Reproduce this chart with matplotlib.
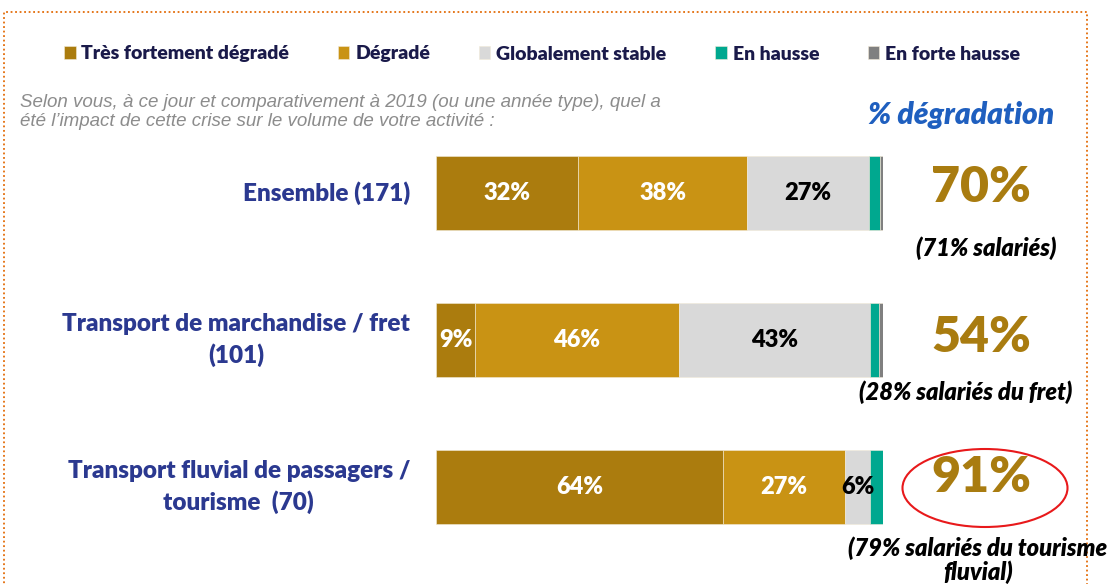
import numpy as np
import matplotlib.pyplot as plt
from matplotlib.patches import Rectangle, Ellipse

W, H = 1108, 584

categories = ['Ensemble (171)', 'Transport de marchandise / fret\n(101)',
              'Transport fluvial de passagers /\ntourisme  (70)']
series = ['Très fortement dégradé', 'Dégradé', 'Globalement stable', 'En hausse', 'En forte hausse']
# parts per category, in %
tres_degrade = [31.8, 8.7, 64.2]
degrade = [37.8, 45.6, 27.3]
stable = [27.3, 42.7, 5.6]
hausse = [2.4, 2.0, 2.9]
forte_hausse = [0.7, 1.0, 0.0]
pct_degradation = ['70%', '54%', '91%']
notes = ['(71% salariés)', '(28% salariés du fret)', '(79% salariés du tourisme\nfluvial)']

colors = ['#AB7C0E', '#C99314', '#D9D9D9', '#00A88F', '#808080']
label_colors = ['white', 'white', 'black', None, None]
navy = '#2B3990'
FW = 'heavy'


def px(x, y):
    return x / W, 1 - y / H


fig = plt.figure(figsize=(W / 100, H / 100), dpi=100)
ax = fig.add_axes([436 / W, 1 - 560.5 / H, 447 / W, 441 / H])

data = [tres_degrade, degrade, stable, hausse, forte_hausse]
ypos = np.arange(len(categories))
left = np.zeros(len(categories))
for vals, c, lc, name in zip(data, colors, label_colors, series):
    vals = np.array(vals)
    ax.barh(ypos, vals, left=left, height=0.503, color=c, edgecolor='#f2ead8',
            linewidth=0.4, label=name)
    if lc:
        for y, l, v in zip(ypos, left, vals):
            ax.text(l + v / 2, y, f'{v:.0f}%', ha='center', va='center', color=lc,
                    fontsize=17, fontweight=FW, family='Lato')
    left += vals

ax.set_xlim(0, 100)
ax.set_ylim(2.5, -0.5)
ax.axis('off')

for y, cat in zip(ypos, categories):
    ax.text(-5.8, y, cat, ha='right', va='center', multialignment='center',
            color=navy, fontsize=17.5, fontweight=FW, family='Lato', linespacing=1.4)

# % dégradation column
big_y = [188, 338, 478]
note_x = [986, 966, 978]
note_y = [248, 392, 560]
for by, nx, ny, p, n in zip(big_y, note_x, note_y, pct_degradation, notes):
    fig.text(*px(981, by), p, ha='center', va='center', color='#A97C10',
             fontsize=36, fontweight=FW, family='Lato')
    fig.text(*px(nx, ny), n, ha='center', va='center', color='black', style='italic',
             fontsize=17, fontweight=FW, family='Lato', multialignment='center',
             linespacing=1.0)

fig.add_artist(Ellipse(px(985, 488), 165 / W, 78 / H, transform=fig.transFigure,
                       fill=False, edgecolor='#E8191B', linewidth=1.5))

fig.text(*px(961, 115), '% dégradation', ha='center', va='center', color='#1F5FBF',
         fontsize=21.5, fontweight=FW, style='italic', family='Lato')

fig.text(*px(20, 112), 'Selon vous, à ce jour et comparativement à 2019 (ou une année type), quel a\n'
         'été l\u2019impact de cette crise sur le volume de votre activité :',
         ha='left', va='center', color='#8C8C8C', style='italic', fontsize=13.5,
         family='Liberation Sans', linespacing=1.2)

leg = fig.legend(loc='center', bbox_to_anchor=px(542, 54), ncol=5, frameon=False,
                 handlelength=0.6, handleheight=0.6, handletextpad=0.3,
                 columnspacing=2.5, labelcolor='#1A1A4A',
                 prop={'family': 'Lato', 'weight': FW, 'size': 14})

# orange dotted frame (bottom edge is off the picture)
fig.add_artist(Rectangle((4 / W, -0.1), (1087 - 4) / W, 1.1 - 12 / H,
                         transform=fig.transFigure, fill=False, edgecolor='#E36C09',
                         linestyle=(0, (1, 1.5)), linewidth=1.3))

fig.savefig('out.png', dpi=100)
